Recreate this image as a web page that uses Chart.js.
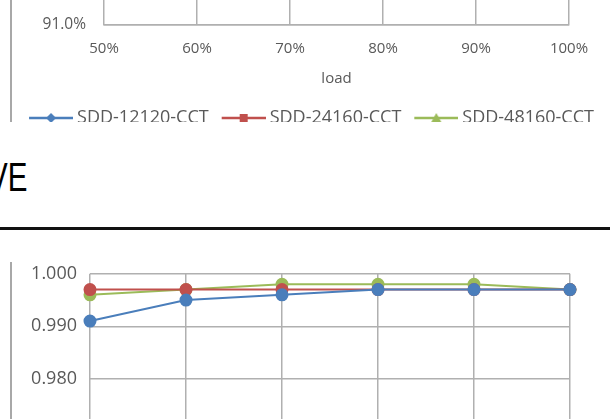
<!DOCTYPE html>
<html>
<head>
<meta charset="utf-8">
<script src="https://cdn.jsdelivr.net/npm/chart.js@4/dist/chart.umd.min.js"></script>
<style>
html, body { margin: 0; padding: 0; background: #fff; }
body { width: 610px; height: 419px; position: relative; overflow: hidden; }
#topClip { position: absolute; left: 0; top: 0; width: 610px; height: 122px; overflow: hidden; }
#topBox { position: absolute; left: 10px; top: -208px; width: 598px; height: 345px; border-left: 2px solid #a8a8a8; }
#heading { position: absolute; left: -12px; top: 157px; font: 41px/1 "Liberation Sans", sans-serif; color: #000; transform: scaleX(0.72); transform-origin: left top; white-space: nowrap; }
#rule { position: absolute; left: 0; top: 227px; width: 610px; height: 3px; background: #111; }
#botFrame { position: absolute; left: 10px; top: 262px; width: 2px; height: 157px; background: #a8a8a8; }
#botBox { position: absolute; left: 12px; top: 250px; width: 598px; height: 333px; }
.inner { position: relative; width: 100%; height: 100%; }
</style>
</head>
<body>
<div id="topClip"><div id="topBox"><div class="inner"><canvas id="effChart"></canvas></div></div></div>
<div id="heading">VE</div>
<div id="rule"></div>
<div id="botFrame"></div>
<div id="botBox"><div class="inner"><canvas id="pfChart"></canvas></div></div>
<script>
var loads = ["50%", "60%", "70%", "80%", "90%", "100%"];
var seriesNames = ["SDD-12120-CCT", "SDD-24160-CCT", "SDD-48160-CCT"];
var colors = ["#4a7ebb", "#c0504d", "#9bbb59"];

// efficiency (%) - curves sit above the visible crop
var eff12120 = [93.2, 93.9, 94.2, 94.4, 94.4, 94.3];
var eff24160 = [93.8, 94.3, 94.6, 94.7, 94.7, 94.6];
var eff48160 = [94.1, 94.6, 94.9, 95.0, 95.0, 94.9];
var effTicks = [91, 92, 93, 94, 95, 96];

// power factor
var pf12120 = [0.991, 0.995, 0.996, 0.997, 0.997, 0.997];
var pf24160 = [0.997, 0.997, 0.997, 0.997, 0.997, 0.997];
var pf48160 = [0.996, 0.997, 0.998, 0.998, 0.998, 0.997];
var pfTicks = [0.95, 0.96, 0.97, 0.98, 0.99, 1.0];

var textColor = "#595959";
var gridColor = "#b0b0b0";

// legend icon: line with the series marker, like the spreadsheet legend
function marker(color, shape) {
  var c = document.createElement("canvas");
  c.width = 50; c.height = 12;
  var g = c.getContext("2d");
  g.strokeStyle = color; g.fillStyle = color; g.lineWidth = 2.5;
  g.beginPath(); g.moveTo(6, 6); g.lineTo(50, 6); g.stroke();
  g.beginPath();
  if (shape == "diamond") { g.moveTo(28, 1); g.lineTo(33, 6); g.lineTo(28, 11); g.lineTo(23, 6); }
  else if (shape == "square") { g.rect(24, 2, 8, 8); }
  else { g.moveTo(28, 1); g.lineTo(33, 10); g.lineTo(23, 10); }
  g.closePath(); g.fill();
  return c;
}
var legendIcons = [marker(colors[0], "diamond"), marker(colors[1], "square"), marker(colors[2], "triangle")];

function lineSet(i, data, style) {
  return {
    label: seriesNames[i], data: data,
    borderColor: colors[i], backgroundColor: colors[i],
    pointBackgroundColor: colors[i], pointBorderColor: colors[i],
    pointStyle: style, pointRadius: 5.5, borderWidth: 2, fill: false, tension: 0
  };
}

new Chart("effChart", {
  type: "line",
  data: {
    labels: loads,
    datasets: [lineSet(0, eff12120, "rectRot"), lineSet(1, eff24160, "rect"), lineSet(2, eff48160, "triangle")]
  },
  options: {
    responsive: true, maintainAspectRatio: false, animation: false,
    layout: { padding: { top: 10, right: 0, left: 0, bottom: 0 } },
    plugins: {
      tooltip: { enabled: false },
      legend: {
        display: true, position: "bottom",
        labels: {
          usePointStyle: true, pointStyleWidth: 40, padding: 12, color: textColor,
          font: { family: "Open Sans", size: 18 },
          generateLabels: function (chart) {
            return chart.data.datasets.map(function (ds, i) {
              return { text: ds.label, pointStyle: legendIcons[i], fontColor: textColor, datasetIndex: i, lineWidth: 0 };
            });
          }
        }
      }
    },
    scales: {
      x: {
        grid: { color: gridColor, lineWidth: 1.5, drawTicks: false },
        border: { color: gridColor, width: 1.5 },
        ticks: { color: textColor, font: { family: "Open Sans", size: 15 }, padding: 15, maxRotation: 0 },
        title: { display: true, text: "load", color: textColor, font: { family: "Open Sans", size: 15 }, padding: { top: 4, bottom: 9 } },
        afterFit: function (s) { s.height = 72; }
      },
      y: {
        min: effTicks[0], max: effTicks[effTicks.length - 1],
        afterBuildTicks: function (s) { s.ticks = effTicks.map(function (v) { return { value: v }; }); },
        grid: { color: gridColor, lineWidth: 1.5, drawTicks: false },
        border: { display: false },
        ticks: { color: textColor, font: { family: "Open Sans", size: 15.5 }, padding: 18,
          callback: function (v) { return v.toFixed(1) + "%"; } },
        afterFit: function (s) { s.width = 92; }
      },
      // empty right-hand margin so the plot ends before the legend does
      yRight: {
        position: "right", display: true,
        grid: { display: false }, border: { display: false }, ticks: { display: false },
        afterFit: function (s) { s.width = 41; }
      }
    }
  }
});

new Chart("pfChart", {
  type: "line",
  data: {
    labels: loads,
    datasets: [lineSet(0, pf12120, "circle"), lineSet(1, pf24160, "circle"), lineSet(2, pf48160, "circle")]
  },
  options: {
    responsive: true, maintainAspectRatio: false, animation: false,
    layout: { padding: { top: 0, right: 40, left: 0, bottom: 0 } },
    plugins: { tooltip: { enabled: false }, legend: { display: false } },
    scales: {
      x: {
        grid: { color: gridColor, lineWidth: 1.5, drawTicks: false },
        border: { color: gridColor, width: 1.5 },
        ticks: { color: textColor, font: { family: "Open Sans", size: 18 }, padding: 15 },
        afterFit: function (s) { s.height = 46.5; }
      },
      y: {
        min: pfTicks[0], max: pfTicks[pfTicks.length - 1],
        afterBuildTicks: function (s) { s.ticks = pfTicks.map(function (v) { return { value: v }; }); },
        grid: { color: gridColor, lineWidth: 1.5, drawTicks: false },
        border: { display: false },
        ticks: { color: textColor, font: { family: "Open Sans", size: 18 }, padding: 13,
          callback: function (v) { return v.toFixed(3); } },
        afterFit: function (s) { s.width = 78; }
      }
    }
  }
});
</script>
</body>
</html>
